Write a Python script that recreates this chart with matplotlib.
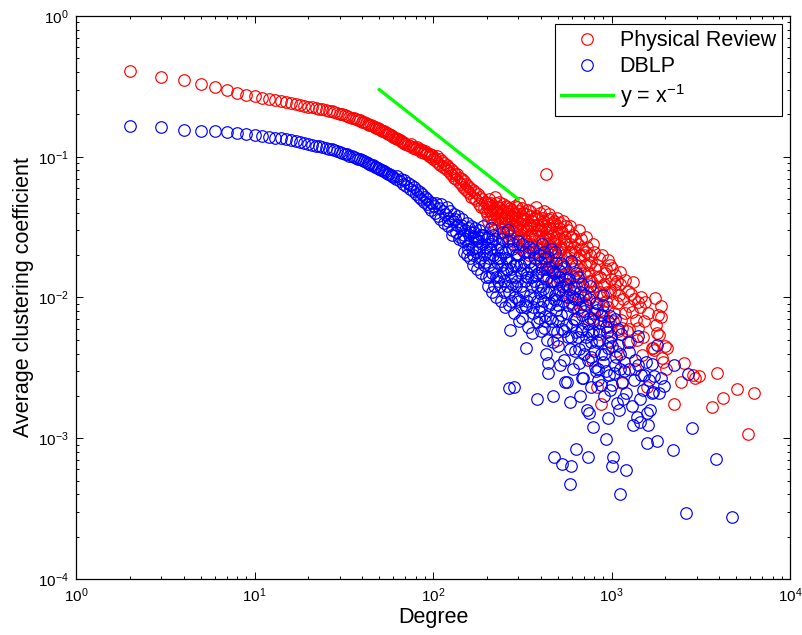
import matplotlib
matplotlib.use("Agg")
import matplotlib.pyplot as plt

# --- data ---
# low degrees: one point per integer degree
red_deg_low = list(range(2, 71))
red_cc_low = [0.405, 0.370, 0.350, 0.327, 0.311, 0.298, 0.285, 0.276, 0.268, 0.262,
              0.257, 0.252, 0.248, 0.244, 0.240, 0.236, 0.232, 0.229, 0.226, 0.224,
              0.221, 0.219, 0.217, 0.214, 0.212, 0.210, 0.207, 0.205, 0.202, 0.200,
              0.197, 0.195, 0.193, 0.190, 0.188, 0.186, 0.183, 0.181, 0.178, 0.176,
              0.174, 0.172, 0.169, 0.167, 0.165, 0.163, 0.161, 0.159, 0.157, 0.156,
              0.153, 0.152, 0.149, 0.148, 0.146, 0.144, 0.143, 0.141, 0.139, 0.137,
              0.136, 0.134, 0.133, 0.131, 0.130, 0.128, 0.127, 0.125, 0.124]

blue_deg_low = list(range(2, 61))
blue_cc_low = [0.165, 0.162, 0.156, 0.153, 0.152, 0.150, 0.148, 0.146, 0.143, 0.141,
               0.139, 0.137, 0.135, 0.133, 0.131, 0.129, 0.127, 0.125, 0.123, 0.122,
               0.120, 0.119, 0.117, 0.116, 0.114, 0.113, 0.111, 0.110, 0.108, 0.107,
               0.105, 0.104, 0.102, 0.101, 0.100, 0.098, 0.097, 0.096, 0.095, 0.093,
               0.092, 0.091, 0.089, 0.088, 0.087, 0.085, 0.084, 0.083, 0.082, 0.081,
               0.080, 0.079, 0.078, 0.077, 0.076, 0.075, 0.074, 0.073, 0.072]

# higher degrees: scattered (degree, coefficient) pairs
red_cloud = [
    (72, .121), (74, .119), (75, .123), (77, .116), (78, .118), (80, .114), (81, .117),
    (83, .111), (84, .113), (86, .108), (87, .112), (89, .106), (90, .109), (92, .104),
    (93, .107), (95, .101), (96, .105), (98, .099), (99, .103), (100, .097),
    (102, .098), (104, .094), (105, .101), (107, .091), (109, .096), (110, .088),
    (112, .093), (114, .085), (115, .090), (117, .083), (119, .087), (120, .080),
    (122, .085), (124, .077), (126, .082), (127, .074), (129, .079), (131, .071),
    (133, .076), (135, .069), (137, .075), (139, .066), (141, .071), (143, .064),
    (145, .069), (147, .061), (149, .067), (151, .059), (153, .064), (155, .057),
    (157, .062), (160, .055), (162, .060), (164, .052), (167, .058), (170, .051),
    (172, .056), (175, .049), (178, .054), (180, .046), (183, .052), (186, .044),
    (189, .050), (192, .043), (195, .048), (198, .041), (200, .047),
    (203, .044), (206, .050), (209, .041), (212, .047), (215, .039), (218, .045),
    (221, .052), (224, .040), (227, .036), (230, .044), (233, .048), (236, .038),
    (240, .034), (243, .042), (246, .046), (250, .037), (254, .032), (257, .040),
    (261, .044), (265, .035), (269, .031), (273, .038), (277, .042), (281, .033),
    (285, .029), (289, .036), (293, .040), (297, .031), (302, .047), (306, .034),
    (310, .028), (314, .038), (319, .032), (324, .026), (329, .036), (334, .030),
    (339, .042), (344, .027), (349, .033), (355, .024), (360, .031), (366, .037),
    (372, .028), (378, .023), (384, .033), (390, .027), (396, .040), (400, .025),
    (405, .030), (410, .022), (415, .035), (420, .019), (425, .027), (430, .075),
    (435, .024), (440, .031), (446, .017), (452, .026), (458, .037), (464, .021),
    (470, .028), (476, .015), (482, .024), (488, .033), (495, .005), (500, .019),
    (507, .026), (515, .013), (522, .022), (530, .029), (538, .017), (546, .011),
    (555, .024), (564, .019), (573, .014), (582, .032), (592, .021), (602, .009),
    (612, .016), (623, .026), (634, .012), (645, .019), (657, .030), (669, .014),
    (681, .022), (694, .010), (707, .017), (720, .027), (734, .007), (748, .013),
    (762, .020), (777, .0036), (792, .011), (808, .016), (824, .0023), (840, .009),
    (857, .014), (874, .00175), (892, .012), (910, .0068), (930, .0095), (950, .0185),
    (970, .0062), (990, .0135),
    (1010, .0162), (1030, .0077), (1050, .0113), (1070, .0130), (1090, .0058),
    (1116, .0153), (1125, .0069), (1140, .00246), (1160, .0098), (1190, .0133),
    (1216, .0058), (1250, .0087), (1290, .0106), (1325, .0129), (1370, .0069),
    (1410, .0093), (1456, .0101), (1500, .0052), (1541, .0093), (1600, .0078),
    (1680, .0044), (1700, .0044), (1730, .00424), (1753, .00997), (1775, .00638),
    (1790, .00557), (1810, .0075), (1853, .00542), (1888, .0073), (1900, .0087),
    (1910, .00371), (1950, .0035), (1990, .0045), (2030, .00312), (2040, .00436),
    (2240, .00175), (2450, .00252), (2547, .00344), (2850, .0028), (2950, .0027),
    (3100, .00275), (3670, .00166), (3917, .00289), (4215, .00194), (5070, .00223),
    (5820, .00107), (6310, .00211),
]

red_cloud_extra = [
    (201, .039), (204, .035), (207, .046), (210, .037), (213, .033), (216, .042),
    (219, .036), (222, .030), (225, .047), (228, .041), (231, .033), (234, .029),
    (238, .043), (241, .037), (244, .027), (248, .041), (252, .034), (255, .045),
    (259, .029), (263, .038), (267, .026), (271, .043), (275, .034), (279, .025),
    (283, .039), (287, .045), (291, .027), (295, .035), (299, .023), (304, .041),
    (308, .030), (312, .022), (317, .043), (321, .035), (326, .021), (331, .039),
    (336, .024), (341, .034), (346, .020), (352, .038), (357, .028), (363, .021),
    (369, .033), (375, .044), (381, .019), (387, .036), (393, .022), (398, .030),
    (402, .018), (408, .033), (413, .026), (418, .041), (423, .016), (428, .029),
    (433, .021), (438, .036), (443, .014), (449, .023), (455, .031), (461, .018),
    (467, .034), (473, .025), (479, .013), (485, .029), (491, .020), (497, .037),
    (503, .016), (510, .031), (518, .023), (526, .012), (534, .035), (542, .020),
    (550, .027), (559, .015), (568, .030), (577, .010), (587, .024), (597, .017),
    (607, .028), (617, .011), (628, .021), (639, .008), (650, .024), (662, .016),
    (675, .026), (688, .012), (700, .020), (714, .009), (727, .023), (741, .015),
    (755, .010), (770, .018), (785, .007), (800, .021), (816, .012), (832, .017),
    (849, .0055), (866, .011), (883, .020), (901, .008), (920, .015), (940, .011),
    (960, .0049), (980, .017), (1000, .0095), (1040, .0125), (1060, .0042),
    (1100, .0105), (1150, .0061), (1180, .0035), (1230, .0112), (1270, .0048),
    (1310, .0079), (1350, .0031), (1400, .0061), (1440, .0085), (1480, .0039),
    (1520, .0068), (1570, .0023),
    (253, .036), (262, .041), (270, .028), (278, .037), (286, .032), (294, .044),
    (303, .026), (311, .036), (320, .040), (330, .025), (338, .031), (348, .041),
    (358, .035), (368, .025), (377, .038), (386, .030), (395, .020), (406, .037),
    (416, .021), (426, .032), (436, .028), (447, .039), (457, .016), (468, .022),
    (479, .035), (490, .027), (502, .021), (514, .034), (527, .017), (540, .025),
    (553, .032), (566, .012), (579, .021), (593, .027), (606, .014), (620, .023),
    (636, .017), (652, .013), (667, .020), (683, .009), (700, .015), (717, .021),
    (734, .011), (752, .017), (770, .013), (789, .024), (808, .0085), (828, .014),
    (848, .019), (868, .0105), (889, .0075), (910, .0125), (935, .016), (958, .0085),
    (985, .011), (1015, .0068), (1045, .0145), (1075, .0092), (1110, .0125),
    (1190, .0078), (1260, .0060), (1330, .0098), (1390, .0050),
]

blue_cloud = [
    (62, .070), (63, .073), (65, .067), (66, .070), (68, .064), (69, .068), (71, .062),
    (72, .065), (74, .059), (75, .063), (77, .057), (78, .061), (80, .054), (81, .058),
    (83, .052), (84, .056), (86, .050), (87, .054), (89, .048), (90, .052), (92, .046),
    (93, .050), (95, .044), (96, .048), (98, .042), (99, .047),
    (101, .045), (103, .040), (104, .047), (106, .038), (108, .043), (110, .036),
    (111, .046), (113, .041), (115, .034), (117, .039), (119, .044), (121, .032),
    (123, .037), (125, .041), (127, .030), (129, .035), (131, .039), (134, .029),
    (136, .033), (138, .038), (141, .027), (143, .031), (146, .036), (148, .025),
    (151, .030), (154, .034), (157, .024), (160, .028), (163, .032), (166, .022),
    (169, .027), (172, .031), (175, .021), (178, .025), (181, .030), (184, .019),
    (188, .024), (191, .028), (195, .018), (198, .023),
    (202, .027), (205, .017), (208, .022), (212, .031), (215, .015), (218, .020),
    (222, .026), (226, .014), (230, .019), (234, .024), (238, .012), (242, .017),
    (246, .029), (250, .013), (254, .021), (258, .016), (262, .025), (266, .011),
    (268, .00226), (270, .0059), (271, .018), (274, .014), (278, .022), (283, .0023),
    (287, .010), (291, .017), (296, .013), (300, .020), (305, .0095), (310, .015),
    (315, .024), (320, .011), (325, .018), (331, .0044), (333, .0085), (337, .014),
    (343, .021), (349, .0105), (355, .016), (361, .0078), (367, .013), (373, .019),
    (380, .0094), (381, .0019), (387, .015), (393, .0072), (400, .012),
    (405, .0085), (410, .024), (415, .0142), (420, .0061), (425, .019), (428, .0040),
    (432, .011), (439, .0029), (443, .0034), (446, .0165), (452, .0092), (458, .022),
    (464, .0068), (470, .013), (472, .0020), (476, .00074), (480, .0105), (486, .0175),
    (493, .0057), (500, .0088), (507, .014), (514, .0033), (520, .0075), (526, .00066),
    (533, .012), (540, .0165), (549, .0025), (556, .0064), (561, .0025), (565, .010),
    (575, .0135), (583, .00047), (586, .0018), (590, .00063), (595, .0052), (605, .0085),
    (615, .0118), (625, .0042), (630, .00084), (636, .0070), (648, .0097), (660, .0034),
    (666, .0020), (672, .0058), (681, .0027), (685, .0125), (698, .0080), (710, .0046),
    (726, .0016), (735, .0065), (741, .00074), (744, .0015), (750, .0098), (765, .0038),
    (780, .0055), (791, .0012), (800, .0078), (815, .0030), (830, .0048), (844, .0031),
    (860, .0066), (875, .0024), (890, .0105), (905, .0040), (931, .00098), (940, .0057),
    (956, .0014), (970, .0028), (985, .0074),
    (1002, .00063), (1010, .0045), (1024, .00073), (1040, .0033), (1069, .00177),
    (1080, .0060), (1112, .0004), (1116, .0040), (1140, .0025), (1164, .0019),
    (1200, .00059), (1230, .0048), (1260, .0031), (1325, .00124), (1350, .0036),
    (1383, .00142), (1413, .00532), (1443, .0013), (1470, .0028), (1500, .0022),
    (1560, .0035), (1580, .00093), (1585, .00152), (1596, .00124), (1620, .0026),
    (1678, .00335), (1690, .00209), (1714, .00214), (1730, .00278), (1790, .00095),
    (1805, .0046), (1968, .00235), (2200, .00082), (2240, .00331), (2614, .000294),
    (2692, .00286), (2812, .00118), (3830, .00071), (4730, .000276),
]

blue_cloud_extra = [
    (150, .021), (152, .026), (155, .020), (158, .031), (161, .019), (164, .025),
    (167, .017), (170, .029), (173, .023), (176, .016), (179, .027), (182, .022),
    (186, .015), (190, .032), (193, .020), (197, .014), (200, .026),
    (203, .012), (207, .019), (210, .024), (214, .011), (217, .028), (220, .016),
    (224, .010), (228, .022), (232, .013), (236, .019), (240, .0095), (244, .026),
    (248, .015), (252, .0085), (256, .019), (260, .012), (264, .030), (268, .0088),
    (272, .016), (276, .0125), (281, .024), (285, .0078), (289, .014), (293, .020),
    (298, .0098), (302, .0068), (307, .017), (312, .012), (317, .0072), (322, .021),
    (328, .0088), (334, .015), (340, .0062), (346, .018), (352, .012), (358, .0056),
    (364, .022), (370, .0099), (377, .0145), (383, .0067), (390, .020), (396, .0108),
    (403, .0058), (408, .016), (413, .0095), (418, .021), (423, .0074), (430, .0135),
    (436, .0050), (442, .0195), (448, .0110), (455, .0072), (462, .0155), (468, .0048),
    (474, .0098), (481, .021), (488, .0082), (495, .0128), (502, .0045), (510, .0112),
    (518, .0175), (526, .0060), (534, .0094), (543, .0036), (552, .0135), (560, .0078),
    (570, .0052), (580, .0115), (590, .0183), (600, .0064), (611, .0031), (622, .0098),
    (633, .0057), (645, .0140), (657, .0043), (669, .0085), (682, .0060), (695, .0027),
    (708, .0105), (722, .0052), (738, .0036), (755, .0072), (770, .0023), (786, .0058),
    (802, .0042), (820, .0092), (838, .0026), (856, .0050), (874, .0075), (893, .0035),
    (912, .0020), (932, .0062), (952, .0044), (975, .0022), (995, .0053), (1030, .0029),
    (1060, .0038), (1095, .0016), (1130, .0055), (1170, .0030), (1210, .0021),
    (1250, .0041), (1300, .0017), (1340, .0026), (1400, .0033), (1450, .0019),
    (1520, .0028), (1650, .0016), (1850, .0021), (1900, .0027),
    (122, .035), (128, .028), (133, .036), (139, .026), (144, .033), (149, .028),
    (156, .022), (162, .029), (168, .020), (174, .026), (180, .018), (185, .028),
    (192, .017), (199, .021), (206, .014), (213, .025), (219, .012), (227, .018),
    (235, .014), (243, .021), (251, .011), (259, .016), (267, .022), (275, .0095),
    (284, .017), (292, .012), (301, .025), (309, .0085), (318, .016), (327, .013),
    (336, .0095), (345, .023), (354, .014), (363, .0085), (372, .017), (382, .012),
    (392, .0080), (402, .018), (412, .0115), (422, .0068), (433, .016), (444, .0088),
    (456, .013), (467, .0060), (479, .0150), (491, .0096), (504, .0068), (516, .0155),
    (529, .0105), (543, .0058), (556, .0125), (570, .0088), (585, .0043), (600, .0102),
    (615, .0070), (630, .0150), (646, .0052), (663, .0110), (680, .0075), (697, .0040),
    (716, .0088), (734, .0058), (753, .0120), (772, .0048), (792, .0068), (812, .0032),
    (834, .0082), (855, .0058), (878, .0040), (900, .0088), (925, .0030), (950, .0068),
    (980, .0048), (1010, .0024), (1050, .0070), (1090, .0046), (1120, .0031),
]

# reference slope y = x^-1 (scaled), drawn between two degrees
ref_deg = [50, 300]
ref_cc = [0.30, 0.05]

red_pts = red_cloud + red_cloud_extra
blue_pts = blue_cloud + blue_cloud_extra
red_deg = red_deg_low + [p[0] for p in red_pts]
red_cc = red_cc_low + [p[1] for p in red_pts]
blue_deg = blue_deg_low + [p[0] for p in blue_pts]
blue_cc = blue_cc_low + [p[1] for p in blue_pts]

# --- styling (MATLAB-ish) ---
plt.rcParams['font.family'] = ['Liberation Sans', 'DejaVu Sans']
plt.rcParams['mathtext.fontset'] = 'custom'
plt.rcParams['mathtext.rm'] = 'Liberation Sans'
plt.rcParams['mathtext.it'] = 'Liberation Sans:italic'
plt.rcParams['mathtext.bf'] = 'Liberation Sans:bold'
plt.rcParams['mathtext.default'] = 'regular'

fig = plt.figure(figsize=(8.02, 6.35), dpi=100)
ax = fig.add_axes([0.0948, 0.0882, 0.8903, 0.8866])

ax.plot(red_deg, red_cc, 'o', mfc='none', mec=(1, 0, 0), ms=8.3, mew=0.85,
        label='Physical Review')
ax.plot(blue_deg, blue_cc, 'o', mfc='none', mec=(0, 0, 1), ms=8.3, mew=0.85,
        label='DBLP')
ax.plot(ref_deg, ref_cc, '-', color=(0, 1, 0), lw=2.3, label='y = x$^{-1}$')

ax.set_xscale('log')
ax.set_yscale('log')
ax.set_xlim(1, 1e4)
ax.set_ylim(1e-4, 1)

ax.tick_params(which='both', direction='in', top=True, right=True)
ax.tick_params(which='major', length=5, width=0.7, labelsize=11, pad=5)
ax.tick_params(which='minor', length=2.5, width=0.7)
for s in ax.spines.values():
    s.set_linewidth(0.9)

ax.set_xlabel('Degree', fontsize=15.5, labelpad=2)
ax.set_ylabel('Average clustering coefficient', fontsize=15.5, labelpad=3)

leg = ax.legend(loc='upper right', bbox_to_anchor=(0.989, 0.986), borderaxespad=0,
                numpoints=1, fontsize=15.5, handlelength=2.4, handletextpad=0.3,
                labelspacing=0.22, borderpad=0.3, fancybox=False, framealpha=1)
leg.get_frame().set_edgecolor('black')
leg.get_frame().set_linewidth(0.8)

fig.savefig('out.png', dpi=100)
